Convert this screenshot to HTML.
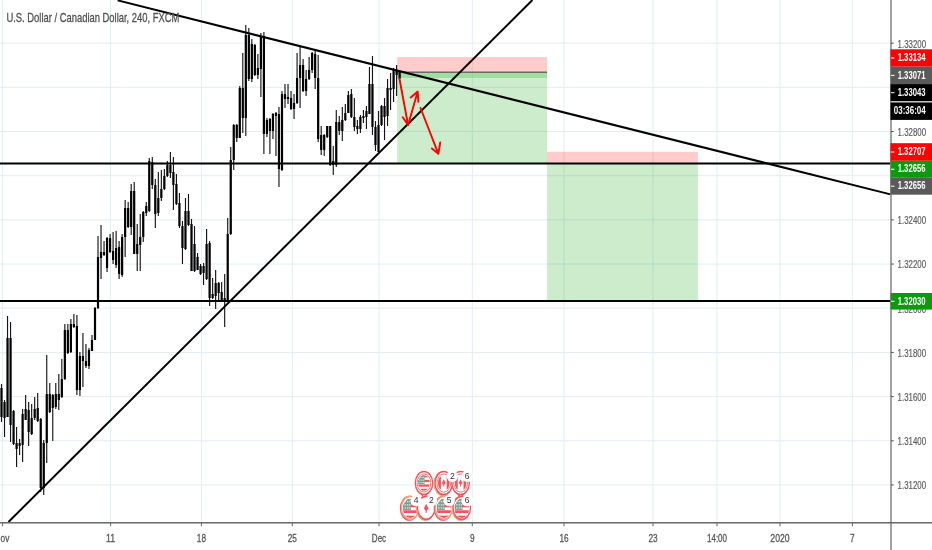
<!DOCTYPE html>
<html><head><meta charset="utf-8"><title>USDCAD</title>
<style>html,body{margin:0;padding:0;background:#fff;}body{width:932px;height:550px;overflow:hidden;font-family:"Liberation Sans",sans-serif;}svg{display:block;will-change:transform;}text{font-family:"Liberation Sans",sans-serif;}</style></head><body>
<svg width="932" height="550" viewBox="0 0 932 550">
<rect x="0" y="0" width="932" height="550" fill="#ffffff"/>
<g stroke="#e3edf4" stroke-width="1" fill="none">
<line x1="0" y1="43.15" x2="891" y2="43.15"/>
<line x1="0" y1="87.33" x2="891" y2="87.33"/>
<line x1="0" y1="131.51" x2="891" y2="131.51"/>
<line x1="0" y1="175.69" x2="891" y2="175.69"/>
<line x1="0" y1="219.87" x2="891" y2="219.87"/>
<line x1="0" y1="264.05" x2="891" y2="264.05"/>
<line x1="0" y1="308.23" x2="891" y2="308.23"/>
<line x1="0" y1="352.41" x2="891" y2="352.41"/>
<line x1="0" y1="396.59" x2="891" y2="396.59"/>
<line x1="0" y1="440.77" x2="891" y2="440.77"/>
<line x1="0" y1="484.95" x2="891" y2="484.95"/>
<line x1="2.6" y1="0" x2="2.6" y2="522"/>
<line x1="110.6" y1="0" x2="110.6" y2="522"/>
<line x1="201.4" y1="0" x2="201.4" y2="522"/>
<line x1="292.3" y1="0" x2="292.3" y2="522"/>
<line x1="379" y1="0" x2="379" y2="522"/>
<line x1="472.3" y1="0" x2="472.3" y2="522"/>
<line x1="564" y1="0" x2="564" y2="522"/>
<line x1="653" y1="0" x2="653" y2="522"/>
<line x1="717" y1="0" x2="717" y2="522"/>
<line x1="780" y1="0" x2="780" y2="522"/>
<line x1="852.4" y1="0" x2="852.4" y2="522"/>
</g>
<rect x="397.2" y="57.05" width="149.85" height="15.15" fill="rgba(255,0,0,0.2)"/>
<rect x="397.2" y="72.2" width="149.85" height="91.40" fill="rgba(0,158,0,0.2)"/>
<rect x="397.2" y="72.2" width="149.85" height="5.80" fill="rgba(0,158,0,0.2)"/>
<rect x="397.2" y="71.55" width="149.85" height="1.3" fill="#5c5c5c"/>
<rect x="547.05" y="151.8" width="150.85" height="11.80" fill="rgba(255,0,0,0.2)"/>
<rect x="547.05" y="163.6" width="150.85" height="137.40" fill="rgba(0,158,0,0.2)"/>
<g fill="#000">
<rect x="0.93" y="384" width="1.14" height="38" fill="#151515"/>
<rect x="0.40" y="388" width="2.2" height="29"/>
<rect x="3.95" y="400" width="1.14" height="37" fill="#151515"/>
<rect x="3.42" y="402" width="2.2" height="16"/>
<rect x="6.96" y="316" width="1.14" height="101" fill="#151515"/>
<rect x="6.43" y="338" width="2.2" height="79"/>
<rect x="9.98" y="322" width="1.14" height="120" fill="#151515"/>
<rect x="9.45" y="338" width="2.2" height="87"/>
<rect x="12.99" y="410" width="1.14" height="35" fill="#151515"/>
<rect x="12.46" y="411" width="2.2" height="33"/>
<rect x="16.01" y="427" width="1.14" height="40" fill="#151515"/>
<rect x="15.48" y="443" width="2.2" height="6"/>
<rect x="19.03" y="439" width="1.14" height="16" fill="#151515"/>
<rect x="18.50" y="443" width="2.2" height="3"/>
<rect x="22.04" y="409" width="1.14" height="53" fill="#151515"/>
<rect x="21.51" y="414" width="2.2" height="31"/>
<rect x="25.06" y="395" width="1.14" height="25" fill="#151515"/>
<rect x="24.53" y="409" width="2.2" height="11"/>
<rect x="28.07" y="402" width="1.14" height="44" fill="#151515"/>
<rect x="27.54" y="410" width="2.2" height="22"/>
<rect x="31.09" y="404" width="1.14" height="31" fill="#151515"/>
<rect x="30.56" y="418" width="2.2" height="16"/>
<rect x="34.11" y="397" width="1.14" height="23" fill="#151515"/>
<rect x="33.58" y="409" width="2.2" height="9"/>
<rect x="37.12" y="393" width="1.14" height="29" fill="#151515"/>
<rect x="36.59" y="408" width="2.2" height="13"/>
<rect x="40.14" y="418" width="1.14" height="74" fill="#151515"/>
<rect x="39.61" y="419" width="2.2" height="69"/>
<rect x="43.15" y="440" width="1.14" height="55" fill="#151515"/>
<rect x="42.62" y="443" width="2.2" height="45"/>
<rect x="46.17" y="355" width="1.14" height="108" fill="#151515"/>
<rect x="45.64" y="394" width="2.2" height="49"/>
<rect x="49.19" y="383" width="1.14" height="30" fill="#151515"/>
<rect x="48.66" y="394" width="2.2" height="18"/>
<rect x="52.20" y="394" width="1.14" height="47" fill="#151515"/>
<rect x="51.67" y="395" width="2.2" height="13"/>
<rect x="55.22" y="383" width="1.14" height="26" fill="#151515"/>
<rect x="54.69" y="394" width="2.2" height="13"/>
<rect x="58.23" y="374" width="1.14" height="36" fill="#151515"/>
<rect x="57.70" y="394" width="2.2" height="6"/>
<rect x="61.25" y="359" width="1.14" height="39" fill="#151515"/>
<rect x="60.72" y="379" width="2.2" height="18"/>
<rect x="64.27" y="324" width="1.14" height="56" fill="#151515"/>
<rect x="63.74" y="330" width="2.2" height="49"/>
<rect x="67.28" y="324" width="1.14" height="30" fill="#151515"/>
<rect x="66.75" y="330" width="2.2" height="23"/>
<rect x="70.30" y="319" width="1.14" height="34" fill="#151515"/>
<rect x="69.77" y="324" width="2.2" height="28"/>
<rect x="73.31" y="314" width="1.14" height="14" fill="#151515"/>
<rect x="72.78" y="324" width="2.2" height="3"/>
<rect x="76.33" y="315" width="1.14" height="80" fill="#151515"/>
<rect x="75.80" y="326" width="2.2" height="64"/>
<rect x="79.35" y="352" width="1.14" height="44" fill="#151515"/>
<rect x="78.82" y="356" width="2.2" height="34"/>
<rect x="82.36" y="333" width="1.14" height="54" fill="#151515"/>
<rect x="81.83" y="356" width="2.2" height="5"/>
<rect x="85.38" y="344" width="1.14" height="24" fill="#151515"/>
<rect x="84.85" y="361" width="2.2" height="5"/>
<rect x="88.39" y="348" width="1.14" height="21" fill="#151515"/>
<rect x="87.86" y="350" width="2.2" height="16"/>
<rect x="91.41" y="335" width="1.14" height="16" fill="#151515"/>
<rect x="90.88" y="340" width="2.2" height="11"/>
<rect x="94.43" y="307" width="1.14" height="33" fill="#151515"/>
<rect x="93.90" y="308" width="2.2" height="32"/>
<rect x="97.44" y="236" width="1.14" height="73" fill="#151515"/>
<rect x="96.91" y="257" width="2.2" height="51"/>
<rect x="100.46" y="225" width="1.14" height="54" fill="#151515"/>
<rect x="99.93" y="252" width="2.2" height="6"/>
<rect x="103.47" y="241" width="1.14" height="15" fill="#151515"/>
<rect x="102.94" y="252" width="2.2" height="3"/>
<rect x="106.49" y="237" width="1.14" height="35" fill="#151515"/>
<rect x="105.96" y="238" width="2.2" height="30"/>
<rect x="109.51" y="234" width="1.14" height="19" fill="#151515"/>
<rect x="108.98" y="238" width="2.2" height="14"/>
<rect x="112.52" y="232" width="1.14" height="32" fill="#151515"/>
<rect x="111.99" y="251" width="2.2" height="9"/>
<rect x="115.54" y="231" width="1.14" height="37" fill="#151515"/>
<rect x="115.01" y="248" width="2.2" height="17"/>
<rect x="118.55" y="241" width="1.14" height="38" fill="#151515"/>
<rect x="118.02" y="247" width="2.2" height="27"/>
<rect x="121.57" y="234" width="1.14" height="43" fill="#151515"/>
<rect x="121.04" y="237" width="2.2" height="38"/>
<rect x="124.59" y="200" width="1.14" height="57" fill="#151515"/>
<rect x="124.06" y="208" width="2.2" height="29"/>
<rect x="127.60" y="202" width="1.14" height="26" fill="#151515"/>
<rect x="127.07" y="208" width="2.2" height="19"/>
<rect x="130.62" y="184" width="1.14" height="51" fill="#151515"/>
<rect x="130.09" y="191" width="2.2" height="36"/>
<rect x="133.63" y="182" width="1.14" height="72" fill="#151515"/>
<rect x="133.10" y="191" width="2.2" height="63"/>
<rect x="136.65" y="224" width="1.14" height="47" fill="#151515"/>
<rect x="136.12" y="244" width="2.2" height="10"/>
<rect x="139.67" y="214" width="1.14" height="57" fill="#151515"/>
<rect x="139.14" y="237" width="2.2" height="8"/>
<rect x="142.68" y="211" width="1.14" height="31" fill="#151515"/>
<rect x="142.15" y="212" width="2.2" height="25"/>
<rect x="145.70" y="202" width="1.14" height="14" fill="#151515"/>
<rect x="145.17" y="206" width="2.2" height="7"/>
<rect x="148.71" y="158" width="1.14" height="54" fill="#151515"/>
<rect x="148.18" y="161" width="2.2" height="50"/>
<rect x="151.73" y="157" width="1.14" height="32" fill="#151515"/>
<rect x="151.20" y="162" width="2.2" height="23"/>
<rect x="154.75" y="179" width="1.14" height="49" fill="#151515"/>
<rect x="154.22" y="185" width="2.2" height="29"/>
<rect x="157.76" y="172" width="1.14" height="44" fill="#151515"/>
<rect x="157.23" y="198" width="2.2" height="15"/>
<rect x="160.78" y="170" width="1.14" height="31" fill="#151515"/>
<rect x="160.25" y="189" width="2.2" height="9"/>
<rect x="163.79" y="169" width="1.14" height="21" fill="#151515"/>
<rect x="163.26" y="176" width="2.2" height="13"/>
<rect x="166.81" y="161" width="1.14" height="16" fill="#151515"/>
<rect x="166.28" y="165" width="2.2" height="11"/>
<rect x="169.83" y="152" width="1.14" height="26" fill="#151515"/>
<rect x="169.30" y="165" width="2.2" height="8"/>
<rect x="172.84" y="157" width="1.14" height="53" fill="#151515"/>
<rect x="172.31" y="172" width="2.2" height="13"/>
<rect x="175.86" y="174" width="1.14" height="31" fill="#151515"/>
<rect x="175.33" y="184" width="2.2" height="20"/>
<rect x="178.87" y="193" width="1.14" height="35" fill="#151515"/>
<rect x="178.34" y="203" width="2.2" height="23"/>
<rect x="181.89" y="221" width="1.14" height="43" fill="#151515"/>
<rect x="181.36" y="226" width="2.2" height="22"/>
<rect x="184.91" y="198" width="1.14" height="52" fill="#151515"/>
<rect x="184.38" y="211" width="2.2" height="38"/>
<rect x="187.92" y="194" width="1.14" height="32" fill="#151515"/>
<rect x="187.39" y="211" width="2.2" height="14"/>
<rect x="190.94" y="219" width="1.14" height="52" fill="#151515"/>
<rect x="190.41" y="224" width="2.2" height="47"/>
<rect x="193.95" y="226" width="1.14" height="46" fill="#151515"/>
<rect x="193.42" y="244" width="2.2" height="27"/>
<rect x="196.97" y="253" width="1.14" height="17" fill="#151515"/>
<rect x="196.44" y="257" width="2.2" height="13"/>
<rect x="199.99" y="264" width="1.14" height="11" fill="#151515"/>
<rect x="199.46" y="266" width="2.2" height="8"/>
<rect x="203.00" y="263" width="1.14" height="22" fill="#151515"/>
<rect x="202.47" y="266" width="2.2" height="7"/>
<rect x="206.02" y="229" width="1.14" height="51" fill="#151515"/>
<rect x="205.49" y="244" width="2.2" height="35"/>
<rect x="209.03" y="241" width="1.14" height="65" fill="#151515"/>
<rect x="208.50" y="243" width="2.2" height="55"/>
<rect x="212.05" y="278" width="1.14" height="21" fill="#151515"/>
<rect x="211.52" y="294" width="2.2" height="4"/>
<rect x="215.07" y="270" width="1.14" height="39" fill="#151515"/>
<rect x="214.54" y="283" width="2.2" height="13"/>
<rect x="218.08" y="282" width="1.14" height="18" fill="#151515"/>
<rect x="217.55" y="283" width="2.2" height="10"/>
<rect x="221.10" y="282" width="1.14" height="19" fill="#151515"/>
<rect x="220.57" y="292" width="2.2" height="8"/>
<rect x="224.11" y="274" width="1.14" height="53" fill="#151515"/>
<rect x="223.58" y="298" width="2.2" height="3"/>
<rect x="227.13" y="218" width="1.14" height="83" fill="#151515"/>
<rect x="226.60" y="234" width="2.2" height="67"/>
<rect x="230.15" y="147" width="1.14" height="88" fill="#151515"/>
<rect x="229.62" y="160" width="2.2" height="74"/>
<rect x="233.16" y="124" width="1.14" height="46" fill="#151515"/>
<rect x="232.63" y="125" width="2.2" height="35"/>
<rect x="236.18" y="124" width="1.14" height="18" fill="#151515"/>
<rect x="235.65" y="125" width="2.2" height="13"/>
<rect x="239.19" y="86" width="1.14" height="52" fill="#151515"/>
<rect x="238.66" y="88" width="2.2" height="50"/>
<rect x="242.21" y="53" width="1.14" height="80" fill="#151515"/>
<rect x="241.68" y="88" width="2.2" height="30"/>
<rect x="245.23" y="25" width="1.14" height="111" fill="#151515"/>
<rect x="244.70" y="35" width="2.2" height="83"/>
<rect x="248.24" y="28" width="1.14" height="53" fill="#151515"/>
<rect x="247.71" y="35" width="2.2" height="44"/>
<rect x="251.26" y="39" width="1.14" height="43" fill="#151515"/>
<rect x="250.73" y="44" width="2.2" height="35"/>
<rect x="254.27" y="44" width="1.14" height="32" fill="#151515"/>
<rect x="253.74" y="45" width="2.2" height="30"/>
<rect x="257.29" y="54" width="1.14" height="25" fill="#151515"/>
<rect x="256.76" y="68" width="2.2" height="7"/>
<rect x="260.31" y="33" width="1.14" height="64" fill="#151515"/>
<rect x="259.78" y="36" width="2.2" height="33"/>
<rect x="263.32" y="32" width="1.14" height="122" fill="#151515"/>
<rect x="262.79" y="36" width="2.2" height="98"/>
<rect x="266.34" y="118" width="1.14" height="19" fill="#151515"/>
<rect x="265.81" y="120" width="2.2" height="14"/>
<rect x="269.35" y="118" width="1.14" height="36" fill="#151515"/>
<rect x="268.82" y="119" width="2.2" height="12"/>
<rect x="272.37" y="113" width="1.14" height="26" fill="#151515"/>
<rect x="271.84" y="114" width="2.2" height="17"/>
<rect x="275.39" y="112" width="1.14" height="44" fill="#151515"/>
<rect x="274.86" y="113" width="2.2" height="3"/>
<rect x="278.40" y="107" width="1.14" height="80" fill="#151515"/>
<rect x="277.87" y="114" width="2.2" height="55"/>
<rect x="281.42" y="91" width="1.14" height="80" fill="#151515"/>
<rect x="280.89" y="94" width="2.2" height="76"/>
<rect x="284.43" y="84" width="1.14" height="24" fill="#151515"/>
<rect x="283.90" y="94" width="2.2" height="5"/>
<rect x="287.45" y="84" width="1.14" height="20" fill="#151515"/>
<rect x="286.92" y="97" width="2.2" height="2"/>
<rect x="290.47" y="91" width="1.14" height="19" fill="#151515"/>
<rect x="289.94" y="98" width="2.2" height="11"/>
<rect x="293.48" y="94" width="1.14" height="25" fill="#151515"/>
<rect x="292.95" y="103" width="2.2" height="6"/>
<rect x="296.50" y="53" width="1.14" height="51" fill="#151515"/>
<rect x="295.97" y="78" width="2.2" height="25"/>
<rect x="299.51" y="47" width="1.14" height="61" fill="#151515"/>
<rect x="298.98" y="65" width="2.2" height="13"/>
<rect x="302.53" y="59" width="1.14" height="33" fill="#151515"/>
<rect x="302.00" y="65" width="2.2" height="26"/>
<rect x="305.55" y="70" width="1.14" height="26" fill="#151515"/>
<rect x="305.02" y="79" width="2.2" height="12"/>
<rect x="308.56" y="57" width="1.14" height="23" fill="#151515"/>
<rect x="308.03" y="70" width="2.2" height="9"/>
<rect x="311.58" y="52" width="1.14" height="21" fill="#151515"/>
<rect x="311.05" y="53" width="2.2" height="17"/>
<rect x="314.59" y="51" width="1.14" height="38" fill="#151515"/>
<rect x="314.06" y="54" width="2.2" height="24"/>
<rect x="317.61" y="55" width="1.14" height="87" fill="#151515"/>
<rect x="317.08" y="78" width="2.2" height="61"/>
<rect x="320.63" y="126" width="1.14" height="29" fill="#151515"/>
<rect x="320.10" y="135" width="2.2" height="15"/>
<rect x="323.64" y="134" width="1.14" height="22" fill="#151515"/>
<rect x="323.11" y="135" width="2.2" height="15"/>
<rect x="326.66" y="126" width="1.14" height="12" fill="#151515"/>
<rect x="326.13" y="126" width="2.2" height="11"/>
<rect x="329.67" y="126" width="1.14" height="40" fill="#151515"/>
<rect x="329.14" y="126" width="2.2" height="39"/>
<rect x="332.69" y="146" width="1.14" height="29" fill="#151515"/>
<rect x="332.16" y="161" width="2.2" height="4"/>
<rect x="335.71" y="110" width="1.14" height="57" fill="#151515"/>
<rect x="335.18" y="122" width="2.2" height="43"/>
<rect x="338.72" y="116" width="1.14" height="19" fill="#151515"/>
<rect x="338.19" y="122" width="2.2" height="9"/>
<rect x="341.74" y="107" width="1.14" height="34" fill="#151515"/>
<rect x="341.21" y="120" width="2.2" height="11"/>
<rect x="344.75" y="104" width="1.14" height="17" fill="#151515"/>
<rect x="344.22" y="113" width="2.2" height="7"/>
<rect x="347.77" y="91" width="1.14" height="22" fill="#151515"/>
<rect x="347.24" y="95" width="2.2" height="18"/>
<rect x="350.79" y="89" width="1.14" height="29" fill="#151515"/>
<rect x="350.26" y="94" width="2.2" height="23"/>
<rect x="353.80" y="98" width="1.14" height="33" fill="#151515"/>
<rect x="353.27" y="117" width="2.2" height="10"/>
<rect x="356.82" y="120" width="1.14" height="14" fill="#151515"/>
<rect x="356.29" y="126" width="2.2" height="3"/>
<rect x="359.83" y="115" width="1.14" height="18" fill="#151515"/>
<rect x="359.30" y="117" width="2.2" height="12"/>
<rect x="362.85" y="110" width="1.14" height="13" fill="#151515"/>
<rect x="362.32" y="116" width="2.2" height="2"/>
<rect x="365.87" y="106" width="1.14" height="23" fill="#151515"/>
<rect x="365.34" y="111" width="2.2" height="6"/>
<rect x="368.88" y="67" width="1.14" height="47" fill="#151515"/>
<rect x="368.35" y="84" width="2.2" height="30"/>
<rect x="371.90" y="56" width="1.14" height="79" fill="#151515"/>
<rect x="371.37" y="84" width="2.2" height="43"/>
<rect x="374.91" y="121" width="1.14" height="30" fill="#151515"/>
<rect x="374.38" y="127" width="2.2" height="18"/>
<rect x="377.93" y="111" width="1.14" height="41" fill="#151515"/>
<rect x="377.40" y="125" width="2.2" height="27"/>
<rect x="380.95" y="105" width="1.14" height="21" fill="#151515"/>
<rect x="380.42" y="106" width="2.2" height="19"/>
<rect x="383.96" y="98" width="1.14" height="42" fill="#151515"/>
<rect x="383.43" y="106" width="2.2" height="11"/>
<rect x="386.98" y="79" width="1.14" height="47" fill="#151515"/>
<rect x="386.45" y="88" width="2.2" height="28"/>
<rect x="389.99" y="73" width="1.14" height="37" fill="#151515"/>
<rect x="389.46" y="88" width="2.2" height="2"/>
<rect x="393.01" y="68" width="1.14" height="34" fill="#151515"/>
<rect x="392.48" y="70" width="2.2" height="19"/>
<rect x="396.03" y="65" width="1.14" height="31" fill="#151515"/>
<rect x="395.50" y="70" width="2.2" height="5"/>
<rect x="399.04" y="72" width="1.14" height="7" fill="#151515"/>
<rect x="398.51" y="72.5" width="2.2" height="6.099999999999994"/>
</g>
<g stroke="#000" stroke-width="2" fill="none" stroke-linecap="butt">
<line x1="0" y1="163.6" x2="890.5" y2="163.6"/>
<line x1="0" y1="301" x2="890.5" y2="301"/>
<line x1="117.6" y1="0.4" x2="890.5" y2="194.4"/>
<line x1="8.44" y1="522" x2="532.45" y2="0"/>
</g>
<g stroke="#ff0000" stroke-width="1.9" fill="none" stroke-linecap="round" stroke-linejoin="round">
<path d="M399.4 78.5 L408.1 125 M402.7 117.2 L408.1 125"/>
<path d="M408.1 125 L417.7 91.6 M410.7 97.5 L417.7 91.6 L418.4 101.9"/>
<path d="M420.5 108 L438.4 153.8 M431.9 148.4 L438.4 153.8 L440.2 142.5"/>
</g>
<rect x="890.2" y="0" width="1.6" height="550" fill="#8c8c8c"/>
<rect x="0" y="522.1" width="932" height="1.4" fill="#5e5e5e"/>
<rect x="891" y="42.65" width="2.8" height="1" fill="#555"/>
<text x="897.6" y="47.55" font-size="11.2" fill="#5c5c5c" stroke="#5c5c5c" stroke-width="0.2" textLength="28.5" lengthAdjust="spacingAndGlyphs">1.33200</text>
<rect x="891" y="86.83" width="2.8" height="1" fill="#555"/>
<text x="897.6" y="91.73" font-size="11.2" fill="#5c5c5c" stroke="#5c5c5c" stroke-width="0.2" textLength="28.5" lengthAdjust="spacingAndGlyphs">1.33000</text>
<rect x="891" y="131.01" width="2.8" height="1" fill="#555"/>
<text x="897.6" y="135.91" font-size="11.2" fill="#5c5c5c" stroke="#5c5c5c" stroke-width="0.2" textLength="28.5" lengthAdjust="spacingAndGlyphs">1.32800</text>
<rect x="891" y="175.19" width="2.8" height="1" fill="#555"/>
<text x="897.6" y="180.09" font-size="11.2" fill="#5c5c5c" stroke="#5c5c5c" stroke-width="0.2" textLength="28.5" lengthAdjust="spacingAndGlyphs">1.32600</text>
<rect x="891" y="219.37" width="2.8" height="1" fill="#555"/>
<text x="897.6" y="224.27" font-size="11.2" fill="#5c5c5c" stroke="#5c5c5c" stroke-width="0.2" textLength="28.5" lengthAdjust="spacingAndGlyphs">1.32400</text>
<rect x="891" y="263.55" width="2.8" height="1" fill="#555"/>
<text x="897.6" y="268.45" font-size="11.2" fill="#5c5c5c" stroke="#5c5c5c" stroke-width="0.2" textLength="28.5" lengthAdjust="spacingAndGlyphs">1.32200</text>
<rect x="891" y="307.73" width="2.8" height="1" fill="#555"/>
<text x="897.6" y="312.63" font-size="11.2" fill="#5c5c5c" stroke="#5c5c5c" stroke-width="0.2" textLength="28.5" lengthAdjust="spacingAndGlyphs">1.32000</text>
<rect x="891" y="351.91" width="2.8" height="1" fill="#555"/>
<text x="897.6" y="356.81" font-size="11.2" fill="#5c5c5c" stroke="#5c5c5c" stroke-width="0.2" textLength="28.5" lengthAdjust="spacingAndGlyphs">1.31800</text>
<rect x="891" y="396.09" width="2.8" height="1" fill="#555"/>
<text x="897.6" y="400.99" font-size="11.2" fill="#5c5c5c" stroke="#5c5c5c" stroke-width="0.2" textLength="28.5" lengthAdjust="spacingAndGlyphs">1.31600</text>
<rect x="891" y="440.27" width="2.8" height="1" fill="#555"/>
<text x="897.6" y="445.17" font-size="11.2" fill="#5c5c5c" stroke="#5c5c5c" stroke-width="0.2" textLength="28.5" lengthAdjust="spacingAndGlyphs">1.31400</text>
<rect x="891" y="484.45" width="2.8" height="1" fill="#555"/>
<text x="897.6" y="489.35" font-size="11.2" fill="#5c5c5c" stroke="#5c5c5c" stroke-width="0.2" textLength="28.5" lengthAdjust="spacingAndGlyphs">1.31200</text>
<rect x="890.5" y="49.3" width="42" height="17.40" fill="#ff0000"/>
<rect x="891" y="57.50" width="3.5" height="1" fill="#fff"/>
<text x="897.7" y="61.20" font-size="10.9" font-weight="bold" fill="#fff" textLength="27.8" lengthAdjust="spacingAndGlyphs">1.33134</text>
<rect x="890.5" y="66.7" width="42" height="17.40" fill="#5a5a5a"/>
<rect x="891" y="74.90" width="3.5" height="1" fill="#fff"/>
<text x="897.7" y="78.60" font-size="10.9" font-weight="bold" fill="#fff" textLength="27.8" lengthAdjust="spacingAndGlyphs">1.33071</text>
<rect x="890.5" y="84.1" width="42" height="17.20" fill="#000000"/>
<rect x="891" y="92.20" width="3.5" height="1" fill="#fff"/>
<text x="897.7" y="95.90" font-size="10.9" font-weight="bold" fill="#fff" textLength="27.8" lengthAdjust="spacingAndGlyphs">1.33043</text>
<rect x="890.5" y="101.2" width="42" height="1.3" fill="#c4c4c4"/>
<rect x="890.5" y="102.5" width="42" height="17.40" fill="#000000"/>
<text x="893.8" y="114.40" font-size="10.9" font-weight="bold" fill="#fff" textLength="31.9" lengthAdjust="spacingAndGlyphs">03:36:04</text>
<rect x="890.5" y="143.2" width="42" height="17.60" fill="#ff0000"/>
<rect x="891" y="151.50" width="3.5" height="1" fill="#fff"/>
<text x="897.7" y="155.20" font-size="10.9" font-weight="bold" fill="#fff" textLength="27.8" lengthAdjust="spacingAndGlyphs">1.32707</text>
<rect x="890.5" y="160.8" width="42" height="16.90" fill="#0b9a0b"/>
<rect x="891" y="168.75" width="3.5" height="1" fill="#fff"/>
<text x="897.7" y="172.45" font-size="10.9" font-weight="bold" fill="#fff" textLength="27.8" lengthAdjust="spacingAndGlyphs">1.32656</text>
<rect x="890.5" y="177.7" width="42" height="17.00" fill="#5a5a5a"/>
<rect x="891" y="185.70" width="3.5" height="1" fill="#fff"/>
<text x="897.7" y="189.40" font-size="10.9" font-weight="bold" fill="#fff" textLength="27.8" lengthAdjust="spacingAndGlyphs">1.32656</text>
<rect x="890.5" y="293" width="42" height="16.60" fill="#0b9a0b"/>
<rect x="891" y="300.80" width="3.5" height="1" fill="#fff"/>
<text x="897.7" y="304.50" font-size="10.9" font-weight="bold" fill="#fff" textLength="27.8" lengthAdjust="spacingAndGlyphs">1.32030</text>
<rect x="2.1" y="523" width="1" height="3.2" fill="#666"/>
<text x="-5.40" y="542" font-size="11.5" fill="#555" stroke="#555" stroke-width="0.3" textLength="14.8" lengthAdjust="spacingAndGlyphs">Nov</text>
<rect x="110.1" y="523" width="1" height="3.2" fill="#666"/>
<text x="106.00" y="542" font-size="11.5" fill="#555" stroke="#555" stroke-width="0.3" textLength="9.2" lengthAdjust="spacingAndGlyphs">11</text>
<rect x="200.9" y="523" width="1" height="3.2" fill="#666"/>
<text x="196.80" y="542" font-size="11.5" fill="#555" stroke="#555" stroke-width="0.3" textLength="9.2" lengthAdjust="spacingAndGlyphs">18</text>
<rect x="291.8" y="523" width="1" height="3.2" fill="#666"/>
<text x="287.70" y="542" font-size="11.5" fill="#555" stroke="#555" stroke-width="0.3" textLength="9.2" lengthAdjust="spacingAndGlyphs">25</text>
<rect x="378.5" y="523" width="1" height="3.2" fill="#666"/>
<text x="371.85" y="542" font-size="11.5" fill="#555" stroke="#555" stroke-width="0.3" textLength="14.3" lengthAdjust="spacingAndGlyphs">Dec</text>
<rect x="471.8" y="523" width="1" height="3.2" fill="#666"/>
<text x="470.00" y="542" font-size="11.5" fill="#555" stroke="#555" stroke-width="0.3" textLength="4.6" lengthAdjust="spacingAndGlyphs">9</text>
<rect x="563.5" y="523" width="1" height="3.2" fill="#666"/>
<text x="559.40" y="542" font-size="11.5" fill="#555" stroke="#555" stroke-width="0.3" textLength="9.2" lengthAdjust="spacingAndGlyphs">16</text>
<rect x="652.5" y="523" width="1" height="3.2" fill="#666"/>
<text x="648.40" y="542" font-size="11.5" fill="#555" stroke="#555" stroke-width="0.3" textLength="9.2" lengthAdjust="spacingAndGlyphs">23</text>
<rect x="716.5" y="523" width="1" height="3.2" fill="#666"/>
<text x="707.00" y="542" font-size="11.5" fill="#555" stroke="#555" stroke-width="0.3" textLength="20.0" lengthAdjust="spacingAndGlyphs">14:00</text>
<rect x="779.5" y="523" width="1" height="3.2" fill="#666"/>
<text x="770.35" y="542" font-size="11.5" fill="#555" stroke="#555" stroke-width="0.3" textLength="19.3" lengthAdjust="spacingAndGlyphs">2020</text>
<rect x="851.9" y="523" width="1" height="3.2" fill="#666"/>
<text x="850.10" y="542" font-size="11.5" fill="#555" stroke="#555" stroke-width="0.3" textLength="4.6" lengthAdjust="spacingAndGlyphs">7</text>
<text x="6.4" y="21.7" font-size="13.4" fill="#505050" stroke="#505050" stroke-width="0.3" textLength="173" lengthAdjust="spacingAndGlyphs">U.S. Dollar / Canadian Dollar, 240, FXCM</text>
<defs>
<g id="us"><circle r="5.9" fill="#fff"/><g clip-path="url(#cflag)"><rect x="-6" y="-6" width="12" height="12" fill="#fff"/><rect x="-6" y="-5.9" width="12" height="1.7" fill="#f6545c"/><rect x="-6" y="-2.4" width="12" height="1.7" fill="#f6545c"/><rect x="-6" y="1.1" width="12" height="1.7" fill="#f6545c"/><rect x="-6" y="4.4" width="12" height="1.7" fill="#f6545c"/><rect x="-6" y="-6" width="6.6" height="6.9" fill="#7f9d93"/><rect x="-4.6" y="-4.6" width="1.1" height="0.8" fill="#dfe9e4"/><rect x="-2.6" y="-4.6" width="1.1" height="0.8" fill="#dfe9e4"/><rect x="-0.9" y="-4.6" width="1.1" height="0.8" fill="#dfe9e4"/><rect x="-4.6" y="-2.6" width="1.1" height="0.8" fill="#dfe9e4"/><rect x="-2.6" y="-2.6" width="1.1" height="0.8" fill="#dfe9e4"/><rect x="-0.9" y="-2.6" width="1.1" height="0.8" fill="#dfe9e4"/><rect x="-4.6" y="-0.7" width="1.1" height="0.8" fill="#dfe9e4"/><rect x="-2.6" y="-0.7" width="1.1" height="0.8" fill="#dfe9e4"/><rect x="-0.9" y="-0.7" width="1.1" height="0.8" fill="#dfe9e4"/></g></g>
<g id="ca"><circle r="5.9" fill="#fff"/><g clip-path="url(#cflag)"><rect x="-6" y="-6" width="12" height="12" fill="#fff"/><rect x="-6" y="-6" width="3.1" height="12" fill="#f6545c"/><rect x="2.9" y="-6" width="3.1" height="12" fill="#f6545c"/><path d="M0 -2.9 L1.9 0 L0.5 1.3 L0.5 2.6 L-0.5 2.6 L-0.5 1.3 L-1.9 0 Z" fill="#f6545c"/></g></g>
<g id="cb"><circle r="5.9" fill="#fff"/><path d="M0 -2.9 L1.9 0 L0.5 1.3 L0.5 2.6 L-0.5 2.6 L-0.5 1.3 L-1.9 0 Z" fill="#f6545c"/></g>
<clipPath id="cflag"><circle r="5.9"/></clipPath>
</defs>
<g transform="translate(424,483) scale(1,1.32)">
<path d="M-3.2 7.6 L0 11.3 L3.2 7.6 Z" fill="#fff" stroke="#f6545c" stroke-width="1.2" stroke-linejoin="round"/>
<circle r="8.7" fill="#fff" stroke="#f6545c" stroke-width="1.3"/>
<circle r="6.9" fill="none" stroke="#f6545c" stroke-width="0.7"/>
<use href="#us"/>
</g>
<g transform="translate(443.8,483) scale(1,1.32)">
<path d="M-3.2 7.6 L0 11.3 L3.2 7.6 Z" fill="#fff" stroke="#f6545c" stroke-width="1.2" stroke-linejoin="round"/>
<circle cx="-0.9" cy="0.4" r="8.9" fill="#fff" stroke="#e9a27c" stroke-width="1.2"/>
<circle r="8.7" fill="#fff" stroke="#f6545c" stroke-width="1.3"/>
<circle r="6.9" fill="none" stroke="#f6545c" stroke-width="0.7"/>
<use href="#ca"/>
</g>
<g transform="translate(460.6,483) scale(1,1.32)">
<path d="M-3.2 7.6 L0 11.3 L3.2 7.6 Z" fill="#fff" stroke="#f6545c" stroke-width="1.2" stroke-linejoin="round"/>
<circle r="8.7" fill="#fff" stroke="#f6545c" stroke-width="1.3"/>
<circle r="6.9" fill="none" stroke="#f6545c" stroke-width="0.7"/>
<use href="#ca"/>
</g>
<g transform="translate(410.2,507.8) scale(1,1.32)">
<circle cx="-0.9" cy="0.4" r="8.9" fill="#fff" stroke="#f6545c" stroke-width="1.2"/>
<circle r="8.7" fill="#fff" stroke="#e9a27c" stroke-width="1.3"/>
<use href="#us" transform="translate(0,0.5) scale(1.24)"/>
</g>
<g transform="translate(426.2,507.8) scale(1,1.32)">
<circle cx="-0.9" cy="0.4" r="8.9" fill="#fff" stroke="#e9a27c" stroke-width="1.2"/>
<circle r="8.7" fill="#fff" stroke="#f6545c" stroke-width="1.3"/>
<use href="#cb" transform="translate(0,0.5) scale(1.24)"/>
</g>
<g transform="translate(444,507.8) scale(1,1.32)">
<circle cx="-0.9" cy="0.4" r="8.9" fill="#fff" stroke="#f6545c" stroke-width="1.2"/>
<circle r="8.7" fill="#fff" stroke="#e9a27c" stroke-width="1.3"/>
<use href="#us" transform="translate(0,0.5) scale(1.24)"/>
</g>
<g transform="translate(461.8,507.8) scale(1,1.32)">
<circle cx="-0.9" cy="0.4" r="8.9" fill="#fff" stroke="#e9a27c" stroke-width="1.2"/>
<circle r="8.7" fill="#fff" stroke="#f6545c" stroke-width="1.3"/>
<use href="#us" transform="translate(0,0.5) scale(1.24)"/>
</g>
<circle cx="452.3" cy="476.2" r="5.7" fill="#fff"/>
<text x="449.90000000000003" y="479.0" font-size="9.5" fill="#333" textLength="4.8" lengthAdjust="spacingAndGlyphs">2</text>
<circle cx="467.2" cy="476.2" r="5.7" fill="#fff"/>
<text x="464.8" y="479.0" font-size="9.5" fill="#333" textLength="4.8" lengthAdjust="spacingAndGlyphs">6</text>
<circle cx="416.2" cy="500.6" r="5.7" fill="#fff"/>
<text x="413.8" y="503.40000000000003" font-size="9.5" fill="#333" textLength="4.8" lengthAdjust="spacingAndGlyphs">4</text>
<circle cx="431.4" cy="500.6" r="5.7" fill="#fff"/>
<text x="429.0" y="503.40000000000003" font-size="9.5" fill="#333" textLength="4.8" lengthAdjust="spacingAndGlyphs">2</text>
<circle cx="449.2" cy="500.6" r="5.7" fill="#fff"/>
<text x="446.8" y="503.40000000000003" font-size="9.5" fill="#333" textLength="4.8" lengthAdjust="spacingAndGlyphs">5</text>
<circle cx="467.2" cy="500.6" r="5.7" fill="#fff"/>
<text x="464.8" y="503.40000000000003" font-size="9.5" fill="#333" textLength="4.8" lengthAdjust="spacingAndGlyphs">6</text>
</svg></body></html>
